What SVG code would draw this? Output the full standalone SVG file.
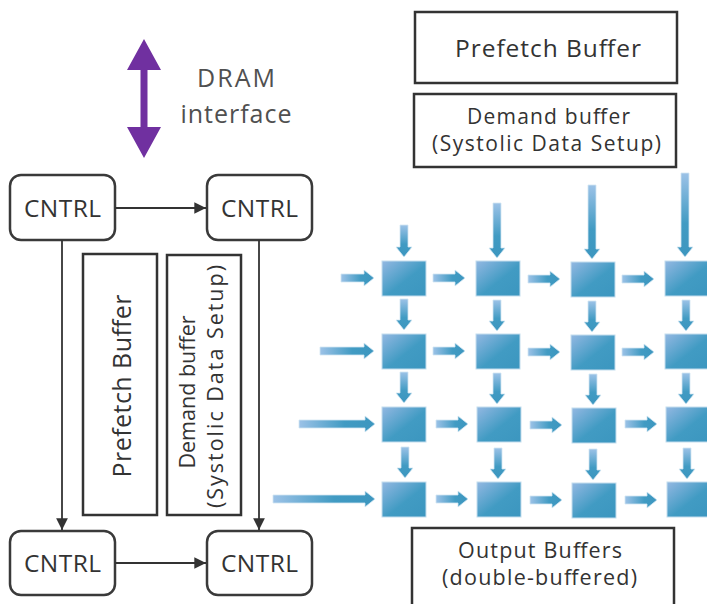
<svg xmlns="http://www.w3.org/2000/svg" width="707" height="604" viewBox="0 0 707 604">
  <defs>
    <style>
      .lbl { font-family: "Open Sans", "Liberation Sans", sans-serif; fill: #333333; }
      .box { fill: #ffffff; stroke: #333333; stroke-width: 2.5; }
      .ctl { fill: #ffffff; stroke: #3a3a3a; stroke-width: 2.5; }
      .wire { fill: none; stroke: #333333; stroke-width: 1.8; }
      .pe { fill: url(#peGrad); stroke: #c4ddee; stroke-width: 1; }
      .ha { fill: url(#hGrad); stroke: #d2e6f2; stroke-width: 0.8; }
      .va { fill: url(#vGrad); stroke: #d2e6f2; stroke-width: 0.8; }
    </style>
    <linearGradient id="peGrad" x1="0" y1="0" x2="1" y2="1">
      <stop offset="0" stop-color="#93b8e2"/>
      <stop offset="0.55" stop-color="#419bc3"/>
      <stop offset="1" stop-color="#3c96bf"/>
    </linearGradient>
    <linearGradient id="hGrad" x1="0" y1="0" x2="1" y2="0">
      <stop offset="0" stop-color="#9cc2e7"/>
      <stop offset="0.6" stop-color="#419bc3"/>
      <stop offset="1" stop-color="#3c96bf"/>
    </linearGradient>
    <linearGradient id="vGrad" x1="0" y1="0" x2="0" y2="1">
      <stop offset="0" stop-color="#9cc2e7"/>
      <stop offset="0.6" stop-color="#419bc3"/>
      <stop offset="1" stop-color="#3c96bf"/>
    </linearGradient>
    <marker id="tip" viewBox="0 0 10 10" refX="10" refY="5" markerWidth="6.5" markerHeight="6.5" markerUnits="strokeWidth" orient="auto">
      <path d="M0,0 L10,5 L0,10 Z" fill="#333333"/>
    </marker>
  </defs>

  <rect width="707" height="604" fill="#ffffff"/>

  <!-- DRAM interface -->
  <g id="dram">
    <path d="M144,39 L161,70 L147.5,70 L147.5,127 L161,127 L144,158 L127,127 L140.5,127 L140.5,70 L127,70 Z" fill="#7030a0"/>
    <text class="lbl" x="236" y="87" font-size="25" text-anchor="middle" style="fill:#505050" textLength="78">DRAM</text>
    <text class="lbl" x="236" y="123" font-size="25" text-anchor="middle" style="fill:#505050" textLength="111">interface</text>
  </g>

  <!-- controllers -->
  <g id="cntrl-tl">
    <rect class="ctl" x="10" y="175" width="105" height="65" rx="11"/>
    <text class="lbl" x="62.5" y="217" font-size="24.5" text-anchor="middle" textLength="77">CNTRL</text>
  </g>
  <g id="cntrl-tr">
    <rect class="ctl" x="207" y="175" width="105" height="65" rx="11"/>
    <text class="lbl" x="259.5" y="217" font-size="24.5" text-anchor="middle" textLength="77">CNTRL</text>
  </g>
  <g id="cntrl-bl">
    <rect class="ctl" x="10" y="531" width="105" height="64" rx="11"/>
    <text class="lbl" x="62.5" y="572" font-size="24.5" text-anchor="middle" textLength="77">CNTRL</text>
  </g>
  <g id="cntrl-br">
    <rect class="ctl" x="207" y="531" width="105" height="64" rx="11"/>
    <text class="lbl" x="259.5" y="572" font-size="24.5" text-anchor="middle" textLength="77">CNTRL</text>
  </g>

  <!-- vertical buffers beside the controllers -->
  <g id="prefetch-v">
    <rect class="box" x="83" y="254" width="74" height="261"/>
    <text class="lbl" transform="translate(131,386) rotate(-90)" font-size="25" text-anchor="middle" textLength="183">Prefetch Buffer</text>
  </g>
  <g id="demand-v">
    <rect class="box" x="167" y="255" width="74" height="260"/>
    <text class="lbl" transform="translate(195,392) rotate(-90)" font-size="21.5" text-anchor="middle">Demand buffer</text>
    <text class="lbl" transform="translate(223,386.5) rotate(-90)" font-size="21.5" text-anchor="middle" textLength="243">(Systolic Data Setup)</text>
  </g>

  <!-- buffers around the array -->
  <g id="prefetch-h">
    <rect class="box" x="415" y="12" width="262" height="71"/>
    <text class="lbl" x="548" y="57" font-size="24.5" text-anchor="middle" textLength="186">Prefetch Buffer</text>
  </g>
  <g id="demand-h">
    <rect class="box" x="414" y="94" width="262" height="73"/>
    <text class="lbl" x="548.5" y="123.5" font-size="21" text-anchor="middle" textLength="163">Demand buffer</text>
    <text class="lbl" x="546.5" y="150.5" font-size="21" text-anchor="middle" textLength="229">(Systolic Data Setup)</text>
  </g>
  <g id="output">
    <rect class="box" x="412" y="528" width="262" height="84"/>
    <text class="lbl" x="540" y="558" font-size="21.5" text-anchor="middle" textLength="164">Output Buffers</text>
    <text class="lbl" x="539.5" y="585" font-size="21.5" text-anchor="middle" textLength="195">(double-buffered)</text>
  </g>

  <!-- controller connectors -->
  <g id="connectors">
    <line class="wire" x1="115" y1="208" x2="206" y2="208" marker-end="url(#tip)"/>
    <line class="wire" x1="115" y1="563" x2="206" y2="563" marker-end="url(#tip)"/>
    <line class="wire" x1="62" y1="240" x2="62" y2="530" marker-end="url(#tip)"/>
    <line class="wire" x1="259" y1="240" x2="259" y2="530" marker-end="url(#tip)"/>
  </g>

  <!-- systolic array: processing elements -->
  <g id="pe-array">
    <rect class="pe" x="382" y="261" width="44" height="35"/>
    <rect class="pe" x="476" y="261" width="44" height="35"/>
    <rect class="pe" x="571" y="262" width="44" height="35"/>
    <rect class="pe" x="665" y="261" width="44" height="35"/>

    <rect class="pe" x="382" y="334" width="44" height="35"/>
    <rect class="pe" x="476" y="334" width="44" height="35"/>
    <rect class="pe" x="571" y="335" width="44" height="35"/>
    <rect class="pe" x="665" y="334" width="44" height="35"/>

    <rect class="pe" x="382" y="407" width="44" height="35"/>
    <rect class="pe" x="477" y="407" width="44" height="35"/>
    <rect class="pe" x="572" y="408" width="44" height="35"/>
    <rect class="pe" x="666" y="407" width="44" height="35"/>

    <rect class="pe" x="382" y="482" width="44" height="35"/>
    <rect class="pe" x="477" y="482" width="44" height="35"/>
    <rect class="pe" x="572" y="483" width="44" height="35"/>
    <rect class="pe" x="667" y="482" width="44" height="35"/>
  </g>

  <!-- systolic array: data-flow arrows -->
  <g id="pe-flow">
    <!-- row 1 -->
    <path class="ha" d="M341,274 H364 V270 L374,278 L364,286 V282 H341 Z"/>
    <path class="ha" d="M433,274 H455 V270 L465,278 L455,286 V282 H433 Z"/>
    <path class="ha" d="M528,275 H550 V271 L560,279 L550,287 V283 H528 Z"/>
    <path class="ha" d="M622,275 H644 V271 L654,279 L644,287 V283 H622 Z"/>
    <!-- row 2 -->
    <path class="ha" d="M320,347 H364 V343 L374,351 L364,359 V355 H320 Z"/>
    <path class="ha" d="M433,347 H455 V343 L465,351 L455,359 V355 H433 Z"/>
    <path class="ha" d="M528,348 H550 V344 L560,352 L550,360 V356 H528 Z"/>
    <path class="ha" d="M622,348 H644 V344 L654,352 L644,360 V356 H622 Z"/>
    <!-- row 3 -->
    <path class="ha" d="M299,420 H365 V416 L375,424 L365,432 V428 H299 Z"/>
    <path class="ha" d="M436,420 H458 V416 L468,424 L458,432 V428 H436 Z"/>
    <path class="ha" d="M530,421 H552 V417 L562,425 L552,433 V429 H530 Z"/>
    <path class="ha" d="M625,420 H647 V416 L657,424 L647,432 V428 H625 Z"/>
    <!-- row 4 -->
    <path class="ha" d="M273,495 H365 V491 L375,499 L365,507 V503 H273 Z"/>
    <path class="ha" d="M436,495 H458 V491 L468,499 L458,507 V503 H436 Z"/>
    <path class="ha" d="M530,496 H552 V492 L562,500 L552,508 V504 H530 Z"/>
    <path class="ha" d="M625,496 H647 V492 L657,500 L647,508 V504 H625 Z"/>

    <!-- inputs from the demand buffer -->
    <path class="va" d="M400,225 V247 H396 L404,257 L412,247 H408 V225 Z"/>
    <path class="va" d="M493,203 V248 H489 L497,258 L505,248 H501 V203 Z"/>
    <path class="va" d="M588,185 V249 H584 L592,259 L600,249 H596 V185 Z"/>
    <path class="va" d="M681,173 V247 H677 L685,257 L693,247 H689 V173 Z"/>

    <!-- row 1 to row 2 -->
    <path class="va" d="M400,299 V320 H396 L404,330 L412,320 H408 V299 Z"/>
    <path class="va" d="M493,300 V321 H489 L497,331 L505,321 H501 V300 Z"/>
    <path class="va" d="M588,301 V322 H584 L592,332 L600,322 H596 V301 Z"/>
    <path class="va" d="M682,300 V321 H678 L686,331 L694,321 H690 V300 Z"/>
    <!-- row 2 to row 3 -->
    <path class="va" d="M400,372 V393 H396 L404,403 L412,393 H408 V372 Z"/>
    <path class="va" d="M493,373 V394 H489 L497,404 L505,394 H501 V373 Z"/>
    <path class="va" d="M589,374 V395 H585 L593,405 L601,395 H597 V374 Z"/>
    <path class="va" d="M682,373 V394 H678 L686,404 L694,394 H690 V373 Z"/>
    <!-- row 3 to row 4 -->
    <path class="va" d="M401,447 V468 H397 L405,478 L413,468 H409 V447 Z"/>
    <path class="va" d="M494,448 V469 H490 L498,479 L506,469 H502 V448 Z"/>
    <path class="va" d="M589,449 V470 H585 L593,480 L601,470 H597 V449 Z"/>
    <path class="va" d="M683,448 V469 H679 L687,479 L695,469 H691 V448 Z"/>
  </g>
</svg>
